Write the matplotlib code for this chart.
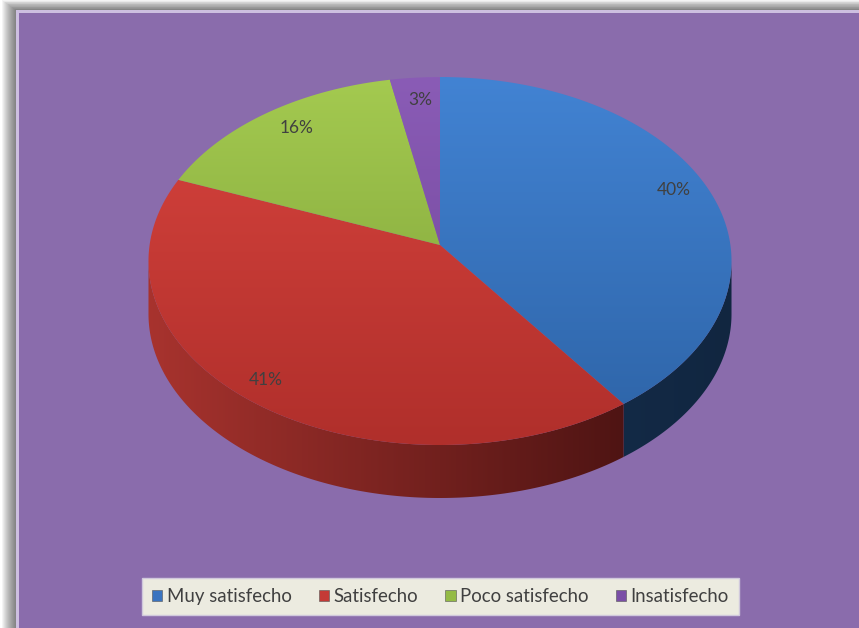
import numpy as np
import matplotlib.pyplot as plt
from matplotlib.patches import Polygon, Rectangle, Patch
from matplotlib.colors import LinearSegmentedColormap

plt.rcParams['font.family'] = ['Lato', 'DejaVu Sans']

# ------------------------------------------------------------
# DATOS
# ------------------------------------------------------------
categorias = ['Muy satisfecho', 'Satisfecho', 'Poco satisfecho', 'Insatisfecho']
valores    = [40, 41, 16, 3]
etiquetas  = ['40%', '41%', '16%', '3%']

# colores: (cara superior claro, cara superior oscuro, lateral claro, lateral oscuro)
colores = [
    ('#4283d3', '#2d63a6', '#1b3a60', '#112640'),
    ('#d8443e', '#b02f2b', '#a8332e', '#3a0d0d'),
    ('#a4ca50', '#7a9d36', '#6f8f2e', '#3c5218'),
    ('#8a5cb6', '#6e4396', '#5a3680', '#3a2254'),
]
leyenda_col = ['#3a74c0', '#c43a36', '#94bb45', '#7a4ea6']

fondo     = '#8a6cac'
texto_col = '#404040'

W, H = 859, 628
fig = plt.figure(figsize=(W / 100, H / 100), dpi=100)
fig.patch.set_facecolor('white')
ax = fig.add_axes([0, 0, 1, 1])
ax.set_xlim(0, W)
ax.set_ylim(H, 0)
ax.axis('off')

# sombra del marco
for k in range(15):
    ax.add_patch(Rectangle((16 - k, 10 - k * 0.7), W, H, facecolor='#000000',
                           alpha=0.045, edgecolor='none', zorder=0))
ax.add_patch(Rectangle((16, 10), W, H, facecolor='#cdbfe0', edgecolor='none', zorder=1))
ax.add_patch(Rectangle((19, 13), W, H, facecolor=fondo, edgecolor='none', zorder=1))

# ------------------------------------------------------------
# PASTEL 3D (proyeccion con perspectiva)
# ------------------------------------------------------------
vx, vy = 440, 245        # centro proyectado
Rx, Ry = 290.4, 182.6
k      = 0.087           # perspectiva
prof   = 53

def punto(a, f=1.0):
    u, v = f * np.cos(a), f * np.sin(a)
    w = 1 + k * v
    return vx + Rx * u / w, vy - Ry * v / w

def gradiente(patch, c1, c2, x0, x1, y0, y1, horizontal=False, z=3):
    cmap = LinearSegmentedColormap.from_list('g', [c1, c2])
    g = np.linspace(0, 1, 256)
    arr = g[None, :] if horizontal else g[:, None]
    im = ax.imshow(arr, cmap=cmap, extent=(x0, x1, y1, y0), origin='upper',
                   aspect='auto', zorder=z, interpolation='bilinear')
    im.set_clip_path(patch)

total  = sum(valores)
inicio = np.pi / 2
angulos = []
for v in valores:
    fin = inicio - 2 * np.pi * v / total
    angulos.append((inicio, fin))
    inicio = fin

x_min, x_max = vx - Rx * 1.01, vx + Rx * 1.01
y_min, y_max = vy - Ry / (1 + k), vy + Ry / (1 - k)

# laterales (parte frontal visible)
frente = (np.pi + np.arcsin(k), 2 * np.pi - np.arcsin(k))
for (a0, a1), c in zip(angulos, colores):
    lo, hi = min(a0, a1), max(a0, a1)
    for off in (0, -2 * np.pi):
        s = max(lo, frente[0] + off)
        e = min(hi, frente[1] + off)
        if e <= s:
            continue
        t = np.linspace(s, e, 150)
        xs, ys = punto(t)
        pts = np.column_stack([np.concatenate([xs, xs[::-1]]),
                               np.concatenate([ys, ys[::-1] + prof])])
        p = Polygon(pts, closed=True, facecolor='none', edgecolor='none', zorder=2)
        ax.add_patch(p)
        gradiente(p, c[2], c[3], x_min, x_max, y_min, y_max + prof, horizontal=True, z=2)

# caras superiores
for (a0, a1), c in zip(angulos, colores):
    t = np.linspace(a0, a1, 250)
    xs, ys = punto(t)
    pts = np.column_stack([np.concatenate([[vx], xs]), np.concatenate([[vy], ys])])
    p = Polygon(pts, closed=True, facecolor='none', edgecolor='none', zorder=3)
    ax.add_patch(p)
    gradiente(p, c[0], c[1], x_min, x_max, y_min, y_max)

# etiquetas
desp = [(4, -8), (-14, 5), (5, -4), (2, -1)]
for (a0, a1), txt, d in zip(angulos, etiquetas, desp):
    x, y = punto((a0 + a1) / 2, 0.85)
    ax.text(x + d[0], y + d[1], txt, ha='center', va='center', color=texto_col,
            fontsize=12.5, zorder=5)

# ------------------------------------------------------------
# LEYENDA
# ------------------------------------------------------------
handles = [Patch(facecolor=c, edgecolor='#555555', linewidth=0.4) for c in leyenda_col]
leg = ax.legend(handles, categorias, loc='center', bbox_to_anchor=(440.5 / W, 1 - 596.5 / H),
                ncol=4, frameon=True, fontsize=13.4, handlelength=0.55, handleheight=0.55,
                handletextpad=0.25, columnspacing=1.45, borderpad=0.55, borderaxespad=0,
                fancybox=False, labelcolor=texto_col)
leg.get_frame().set_facecolor('#ecebe0')
leg.get_frame().set_edgecolor('#d0c8dc')
leg.get_frame().set_alpha(1)

plt.savefig('out.png', dpi=100, facecolor=fig.get_facecolor())
